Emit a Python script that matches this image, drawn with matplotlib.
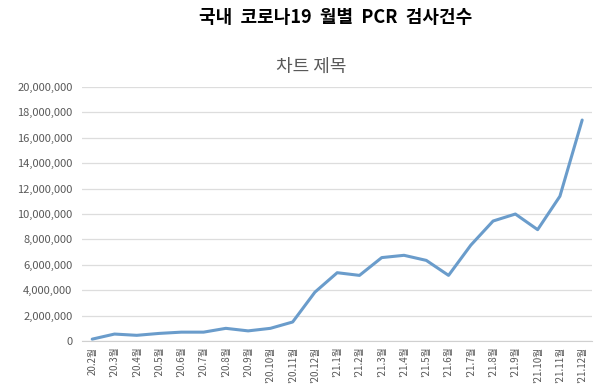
import matplotlib
matplotlib.use("Agg")
import matplotlib.pyplot as plt
from matplotlib.ticker import FuncFormatter, MultipleLocator

plt.rcParams["font.family"] = ["Noto Sans CJK KR", "DejaVu Sans"]

# ----------------------------------------------------------------------------
# Data (monthly PCR tests)
# ----------------------------------------------------------------------------
months = ["20.2월", "'20.3월", "'20.4월", "'20.5월", "'20.6월", "'20.7월",
          "'20.8월", "'20.9월", "'20.10월", "'20.11월", "'20.12월",
          "'21.1월", "'21.2월", "'21.3월", "'21.4월", "'21.5월", "'21.6월",
          "'21.7월", "'21.8월", "'21.9월", "'21.10월", "'21.11월", "'21.12월"]
tests = [150_000, 550_000, 450_000, 600_000, 700_000, 700_000,
         1_000_000, 800_000, 1_000_000, 1_500_000, 3_850_000,
         5_380_000, 5_170_000, 6_570_000, 6_750_000, 6_350_000, 5_170_000,
         7_550_000, 9_450_000, 10_000_000, 8_770_000, 11_400_000, 17_400_000]

title = "국내  코로나19  월별  PCR  검사건수"
subtitle = "차트 제목"

grey_text = "#595959"

fig = plt.figure(figsize=(6, 3.92), dpi=100)
ax = fig.add_axes([0.137, 0.130, 0.850, 0.648])

x = range(len(months))
ax.plot(x, tests, color="#6A9CCB", lw=2.2, solid_capstyle="round")

ax.set_ylim(0, 20_000_000)
ax.set_xlim(-0.45, len(months) - 0.55)
ax.yaxis.set_major_locator(MultipleLocator(2_000_000))
ax.yaxis.set_major_formatter(FuncFormatter(lambda v, p: f"{int(v):,}"))
ax.grid(axis="y", color="#DDDDDD", lw=0.9)
ax.set_axisbelow(True)

ax.set_xticks(list(x))
ax.set_xticklabels(months, rotation=90, fontsize=7, color=grey_text)
ax.tick_params(axis="y", labelsize=8, labelcolor=grey_text, length=0, pad=7)
ax.tick_params(axis="x", length=0, pad=4)

for side in ["top", "right", "left"]:
    ax.spines[side].set_visible(False)
ax.spines["bottom"].set_color("#D0D0D0")

fig.text(0.56, 0.955, title, ha="center", va="center", fontsize=13,
         fontweight="bold", color="black")
fig.text(0.518, 0.83, subtitle, ha="center", va="center", fontsize=13,
         color=grey_text)

fig.savefig("out.png", dpi=100, facecolor="white")
